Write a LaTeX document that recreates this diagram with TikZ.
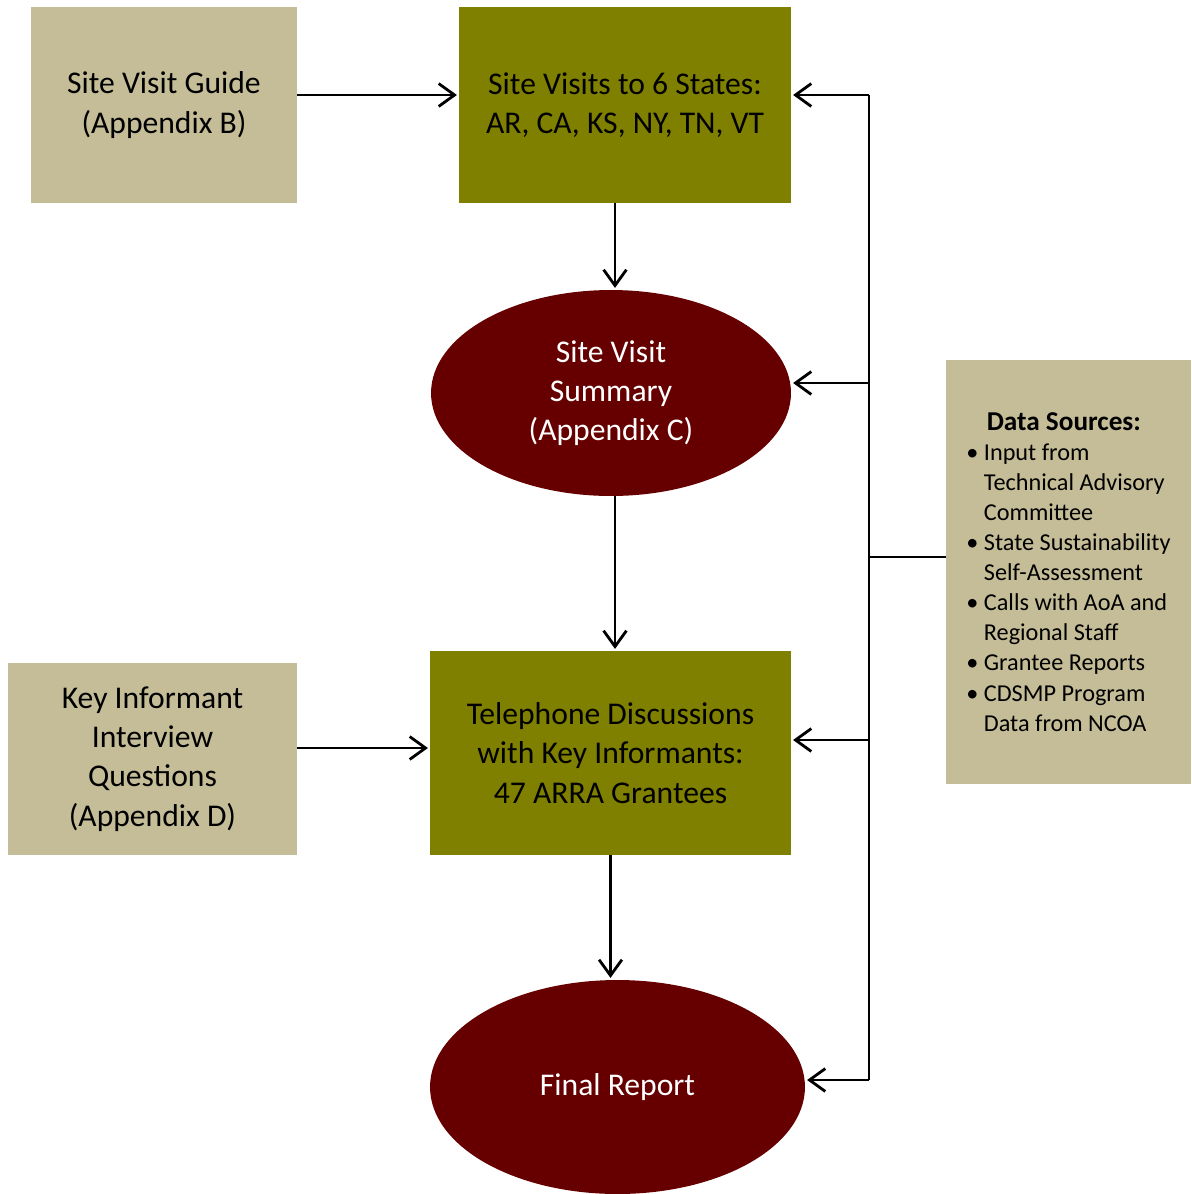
\documentclass[tikz,border=0pt]{standalone}
\usepackage{fontspec}
\setmainfont{Carlito}
\usetikzlibrary{shapes.geometric,arrows.meta}

\definecolor{guidetan}{HTML}{C4BD97}
\definecolor{stageolive}{HTML}{808000}
\definecolor{reportred}{HTML}{660000}

\newcommand{\dsbullet}{\makebox[10pt][l]{\textbullet}}
\newcommand{\dsindent}{\hspace{10pt}}

\begin{document}
\begin{tikzpicture}[
  x=0.02cm, y=-0.02cm,
  every node/.style={font=\fontsize{18}{22.3}\selectfont, align=center, inner sep=0pt},
  guidebox/.style={rectangle, fill=guidetan},
  stagebox/.style={rectangle, fill=stageolive},
  resultnode/.style={ellipse, fill=reportred, text=white},
  arr/.style={-{Straight Barb[length=9pt,width=13pt]}, line width=1.6pt, shorten >=1pt}
]
\useasboundingbox (0,0) rectangle (1191,1194);

% inputs
\node[guidebox, minimum width=5.32cm, minimum height=3.92cm] (guide) at (164,105) {Site Visit Guide\\(Appendix B)};
\node[guidebox, minimum width=5.78cm, minimum height=3.84cm] (keyq) at (152.5,759) {Key Informant\\Interview\\Questions\\(Appendix D)};

% stages
\node[stagebox, minimum width=6.64cm, minimum height=3.92cm] (visits) at (625,105) {Site Visits to 6 States:\\AR, CA, KS, NY, TN, VT};
\node[resultnode, minimum width=7.2cm, minimum height=4.12cm] (summary) at (611,393) {Site Visit\\Summary\\(Appendix C)};
\node[stagebox, minimum width=7.22cm, minimum height=4.08cm] (phone) at (610.5,753) {Telephone Discussions\\with Key Informants:\\47 ARRA Grantees};
\node[resultnode, minimum width=7.5cm, minimum height=4.28cm] (report) at (617.5,1087) {Final Report};

% data sources
\node[guidebox, minimum width=4.9cm, minimum height=8.5cm, font=\fontsize{13.8}{17.1}\selectfont, align=left] (sources) at (1068.5,572) {%
  \makebox[3.9cm][c]{\fontsize{15.5}{17.1}\selectfont\bfseries Data Sources:}\\
  \dsbullet Input from\\
  \dsindent Technical Advisory\\
  \dsindent Committee\\
  \dsbullet State Sustainability\\
  \dsindent Self-Assessment\\
  \dsbullet Calls with AoA and\\
  \dsindent Regional Staff\\
  \dsbullet Grantee Reports\\
  \dsbullet CDSMP Program\\
  \dsindent Data from NCOA};

% feedback bus
\coordinate (b1) at (869,95);
\coordinate (b2) at (869,383);
\coordinate (b0) at (869,557);
\coordinate (b3) at (869,740);
\coordinate (b4) at (869,1080);
\coordinate (k1) at (297,748);

\draw[line width=1.6pt] (b1) -- (b4);
\draw[line width=1.6pt] (b0) -- (b0 -| sources.west);
\draw[arr] (b1) -- (b1 -| visits.east);
\draw[arr] (b2) -- (b2 -| summary.east);
\draw[arr] (b3) -- (b3 -| phone.east);
\draw[arr] (b4) -- (b4 -| report.east);

% main flow
\draw[arr] (guide.east |- b1) -- (visits.west |- b1);
\draw[arr] (k1) -- (k1 -| phone.west);
\draw[arr] ([xshift=-0.2cm]visits.south) -- ([xshift=-0.2cm]visits.south |- summary.north);
\draw[arr] ([xshift=0.08cm]summary.south) -- ([xshift=0.08cm]summary.south |- phone.north);
\draw[arr] (phone.south) -- (phone.south |- report.north);

\end{tikzpicture}
\end{document}
